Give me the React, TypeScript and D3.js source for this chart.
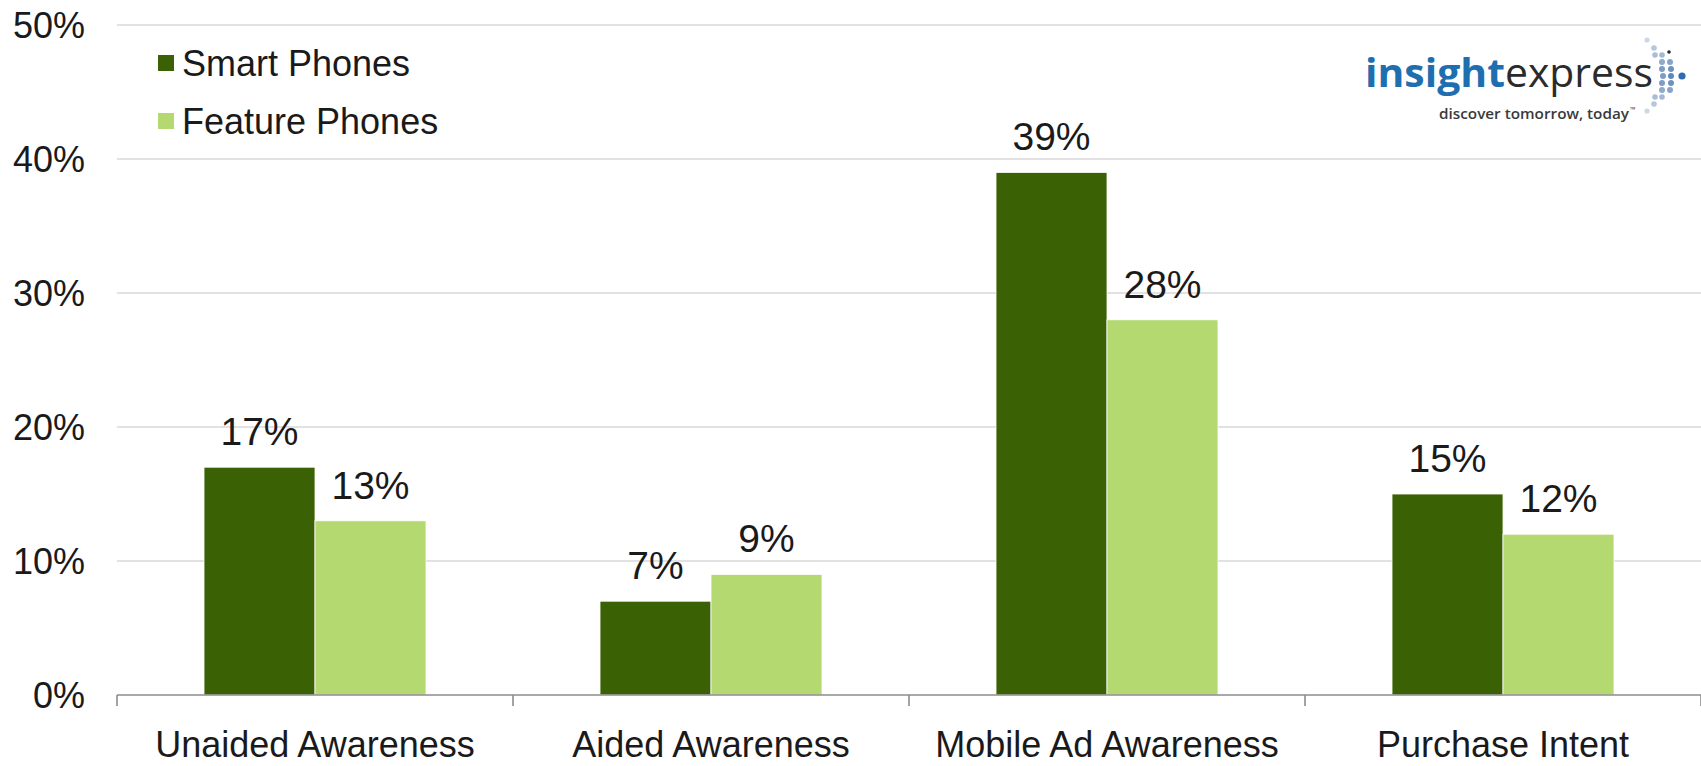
import React from "react";
import * as d3 from "d3";

const categories = ["Unaided Awareness", "Aided Awareness", "Mobile Ad Awareness", "Purchase Intent"];
const seriesNames = ["Smart Phones", "Feature Phones"];
const smartPhones = [17, 7, 39, 15];
const featurePhones = [13, 9, 28, 12];
const yTicks = [0, 10, 20, 30, 40, 50];
const colors = ["#3a6204", "#b4d970"];

const W = 1701;
const H = 766;
const FONT = "'Liberation Sans', Arial, Helvetica, sans-serif";

const logoDots: [number, number, number, string][] = [
  [1647, 40, 2.6, "#cdd8e6"],
  [1654, 48, 2.8, "#b6c6dc"],
  [1655, 55, 2.8, "#a9bdd6"],
  [1662, 55, 2.8, "#a3b8d4"],
  [1669, 52, 1.8, "#2a2a2a"],
  [1662, 62, 3.0, "#8ea9cb"],
  [1670, 62, 3.0, "#86a3c8"],
  [1662, 69, 3.0, "#7f9dc4"],
  [1671, 69, 3.0, "#6e92c0"],
  [1663, 76, 3.0, "#7f9dc4"],
  [1671, 76, 3.0, "#5f88bd"],
  [1682, 76, 3.6, "#2e6cb2"],
  [1662, 83, 3.0, "#7f9dc4"],
  [1671, 83, 3.0, "#6e92c0"],
  [1662, 90, 3.0, "#8ea9cb"],
  [1670, 90, 3.0, "#86a3c8"],
  [1655, 97, 2.8, "#a9bdd6"],
  [1662, 97, 2.8, "#a3b8d4"],
  [1654, 104, 2.8, "#b6c6dc"],
  [1647, 111, 2.6, "#cdd8e6"],
];

export default function App() {
  const x0 = d3.scaleBand<string>().domain(categories).range([117, 117 + 396 * 4]).paddingInner(0).paddingOuter(0);
  const x1 = d3.scaleBand<string>().domain(seriesNames).range([0, x0.bandwidth()]).paddingInner(0).paddingOuter(0.784);
  const y = d3.scaleLinear().domain([0, 50]).range([695, 25]);
  const series = [smartPhones, featurePhones];

  return (
    <svg width={W} height={H} style={{ position: "absolute", left: 0, top: 0, background: "#fff" }}>
      <rect x={0} y={0} width={W} height={H} fill="#fff" />
      {/* gridlines */}
      {yTicks.filter((t) => t > 0).map((t) => (
        <line key={t} x1={117} x2={W} y1={y(t)} y2={y(t)} stroke="#d9d9d9" strokeWidth={1.6} />
      ))}
      {/* y tick labels */}
      {yTicks.map((t) => (
        <text key={t} x={85} y={y(t)} dy="0.36em" textAnchor="end" fontFamily={FONT} fontSize={36} fill="#1a1a1a">
          {t}%
        </text>
      ))}
      {/* bars */}
      {categories.map((c, i) => (
        <g key={c} transform={`translate(${x0(c)},0)`}>
          {seriesNames.map((s, j) => {
            const v = series[j][i];
            const bx = x1(s)!;
            return (
              <g key={s}>
                <rect x={bx} y={y(v)} width={x1.bandwidth()} height={y(0) - y(v)} fill={colors[j]} stroke="#ffffff" strokeWidth={0.8} />
                <text x={bx + x1.bandwidth() / 2} y={y(v) - 22} textAnchor="middle" fontFamily={FONT} fontSize={39} fill="#1a1a1a">
                  {v}%
                </text>
              </g>
            );
          })}
        </g>
      ))}
      {/* x axis */}
      <line x1={117} x2={W} y1={y(0)} y2={y(0)} stroke="#8c8c8c" strokeWidth={1.6} />
      {[...categories.map((c) => x0(c)!), 117 + 396 * 4].map((tx, i) => (
        <line key={i} x1={tx} x2={tx} y1={y(0)} y2={y(0) + 11} stroke="#8c8c8c" strokeWidth={1.6} />
      ))}
      {categories.map((c) => (
        <text key={c} x={x0(c)! + x0.bandwidth() / 2} y={757} textAnchor="middle" fontFamily={FONT} fontSize={36} fill="#1a1a1a">
          {c}
        </text>
      ))}
      {/* legend */}
      {seriesNames.map((s, j) => (
        <g key={s}>
          <rect x={158} y={55 + j * 58} width={16} height={16} fill={colors[j]} />
          <text x={182} y={76 + j * 58} fontFamily={FONT} fontSize={36} fill="#1a1a1a">
            {s}
          </text>
        </g>
      ))}
      {/* logo */}
      <text x={1365} y={87} fontFamily="'Open Sans', 'DejaVu Sans', sans-serif" fontSize={40} textLength={288} lengthAdjust="spacingAndGlyphs">
        <tspan fill="#1f6fb0" fontWeight={700}>insight</tspan>
        <tspan fill="#2b2b2b" fontWeight={400}>express</tspan>
      </text>
      <text x={1439} y={119} fontFamily="'Open Sans', 'DejaVu Sans', sans-serif" fontSize={15} fontWeight={600} fill="#3a3a3a" textLength={190} lengthAdjust="spacingAndGlyphs">
        discover tomorrow, today
      </text>
      <text x={1630} y={112} fontFamily="'Open Sans', 'DejaVu Sans', sans-serif" fontSize={7} fill="#3a3a3a">™</text>
      {logoDots.map(([cx, cy, r, f], i) => (
        <circle key={i} cx={cx} cy={cy} r={r} fill={f} />
      ))}
    </svg>
  );
}
